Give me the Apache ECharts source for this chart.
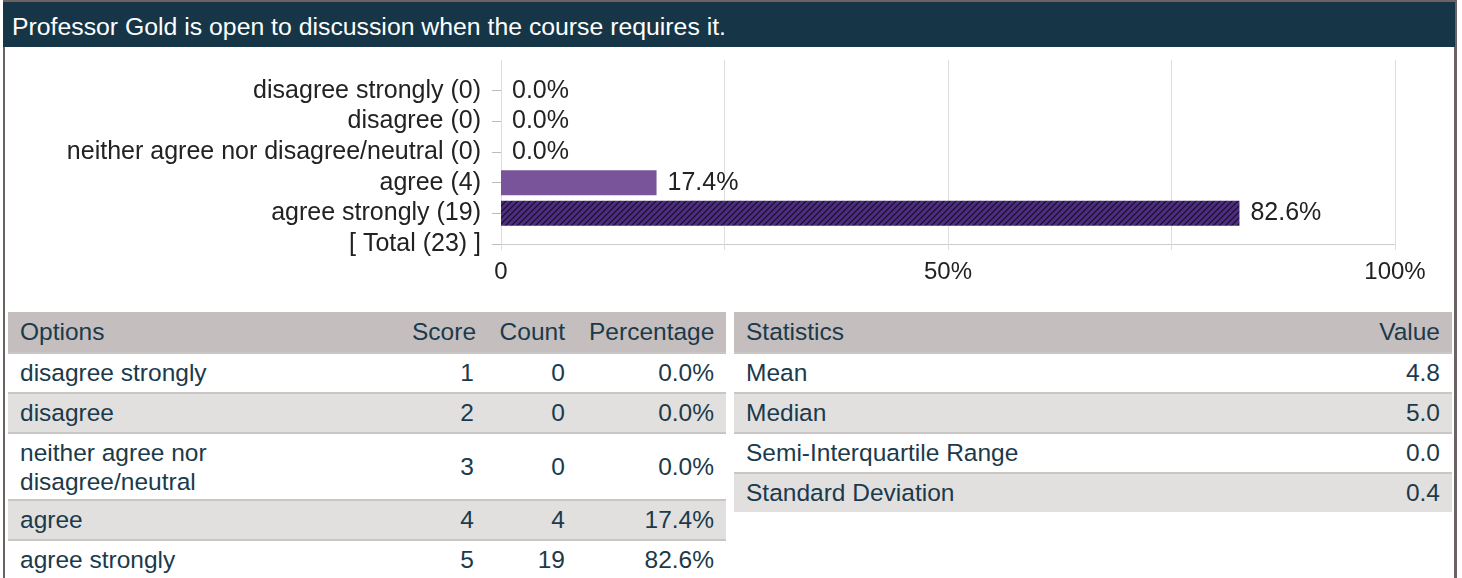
<!DOCTYPE html>
<html>
<head>
<meta charset="utf-8">
<script src="https://cdn.jsdelivr.net/npm/echarts@6/dist/echarts.min.js"></script>
<style>
  html, body { margin: 0; padding: 0; background: #fff; }
  body { width: 1462px; height: 578px; overflow: hidden; position: relative; font-family: "Liberation Sans", Arial, sans-serif; }
  #frame { position: absolute; left: 3px; top: 0; width: 1449px; height: 600px; border-top: 2px solid #6b6262; border-left: 2px solid #6b6262; border-right: 3px solid #6b6262; }
  #head { position: absolute; left: 3px; top: 2px; width: 1452px; height: 45px; background: #163547; color: #fff; font-size: 24.8px; line-height: 50px; padding-left: 9px; box-sizing: border-box; white-space: nowrap; overflow: hidden; }
  #chart { position: absolute; left: 0; top: 47px; width: 1462px; height: 262px; }
  table { position: absolute; top: 312px; border-collapse: collapse; font-size: 24.5px; color: #1b3a4b; table-layout: fixed; }
  td, th { font-weight: normal; padding: 0 12px; height: 38px; border-top: 2px solid #cbc6c6; white-space: nowrap; overflow: hidden; }
  th { background: #c4bebe; height: 40px; border-top: none; }
  tr.g td { background: #e1e0df; }
  .r { text-align: right; }
  .l { text-align: left; }
  #opts { left: 8px; width: 718px; }
  #stats { left: 734px; width: 718px; }
  #opts td.two { height: 65px; line-height: 29px; }
</style>
</head>
<body>
<div id="frame"></div>
<div id="head">Professor Gold is open to discussion when the course requires it.</div>
<div id="chart"></div>
<table id="opts"><colgroup><col><col style="width:86px"><col style="width:91px"><col style="width:149px"></colgroup><thead></thead><tbody></tbody></table>
<table id="stats"><colgroup><col><col style="width:150px"></colgroup><thead></thead><tbody></tbody></table>
<script>
// 数据
var categories = ['', 'disagree strongly (0)', 'disagree (0)', 'neither agree nor disagree/neutral (0)', 'agree (4)', 'agree strongly (19)', '[ Total (23) ]'];
var percentValues = [null, 0, 0, 0, 17.4, 82.6, null];
var xTickLabels = {0: '0', 50: '50%', 100: '100%'};

var optionNames = ['disagree strongly', 'disagree', 'neither agree nor<br>disagree/neutral', 'agree', 'agree strongly'];
var optionScores = [1, 2, 3, 4, 5];
var optionCounts = [0, 0, 0, 4, 19];
var optionPercents = ['0.0%', '0.0%', '0.0%', '17.4%', '82.6%'];

var statNames = ['Mean', 'Median', 'Semi-Interquartile Range', 'Standard Deviation'];
var statValues = ['4.8', '5.0', '0.0', '0.4'];

// 斜线填充
var hatch = document.createElement('canvas');
hatch.width = 6; hatch.height = 6;
var hc = hatch.getContext('2d');
hc.fillStyle = '#4e2c82';
hc.fillRect(0, 0, 6, 6);
hc.strokeStyle = '#160d28';
hc.lineWidth = 1.2;
hc.beginPath();
hc.moveTo(-1, 7); hc.lineTo(7, -1);
hc.moveTo(-4, 4); hc.lineTo(4, -4);
hc.moveTo(2, 10); hc.lineTo(10, 2);
hc.stroke();

var barColors = [null, '#7a549b', '#7a549b', '#7a549b', '#7a549b', {image: hatch, repeat: 'repeat'}, null];

var chart = echarts.init(document.getElementById('chart'));
var option = {
    animation: false,
    textStyle: { fontFamily: '"Liberation Sans", Arial, sans-serif' },
    grid: { left: 501, top: 13, width: 894, height: 184 },
    xAxis: {
        type: 'value',
        min: 0,
        max: 100,
        interval: 25,
        axisLine: { show: true, lineStyle: { color: '#cccccc', width: 1 } },
        axisTick: { show: true, length: 6, lineStyle: { color: '#dddddd' } },
        splitLine: { show: true, lineStyle: { color: '#dddddd', width: 1 } },
        axisLabel: {
            margin: 16,
            fontSize: 24,
            color: '#222',
            formatter: function (v) { return xTickLabels[v] || ''; }
        }
    },
    yAxis: {
        type: 'category',
        inverse: true,
        boundaryGap: false,
        data: categories,
        axisLine: { show: false },
        axisTick: {
            show: true,
            length: 9,
            interval: function (i) { return i > 0; },
            lineStyle: { color: '#bbbbbb' }
        },
        axisLabel: { margin: 20, fontSize: 25, color: '#222', interval: 0 },
        splitLine: { show: false }
    },
    series: [
        {
            type: 'bar',
            barWidth: 25,
            data: percentValues.map(function (v, i) {
                return { value: v, itemStyle: { color: barColors[i] || '#7a549b' } };
            }),
            label: {
                show: true,
                position: 'right',
                distance: 11,
                fontSize: 25,
                color: '#222',
                formatter: function (p) { return p.value.toFixed(1) + '%'; }
            }
        }
    ]
};
chart.setOption(option);

// 表格
var oh = document.querySelector('#opts thead');
oh.innerHTML = '<tr><th class="l">Options</th><th class="r">Score</th><th class="r">Count</th><th class="r">Percentage</th></tr>';
var ob = document.querySelector('#opts tbody');
var rows = '';
for (var i = 0; i < optionNames.length; i++) {
    var two = optionNames[i].indexOf('<br>') >= 0 ? ' class="two"' : '';
    rows += '<tr' + (i % 2 ? ' class="g"' : '') + '><td' + two + '>' + optionNames[i] + '</td><td class="r">' + optionScores[i] +
        '</td><td class="r">' + optionCounts[i] + '</td><td class="r">' + optionPercents[i] + '</td></tr>';
}
ob.innerHTML = rows;

var sh = document.querySelector('#stats thead');
sh.innerHTML = '<tr><th class="l">Statistics</th><th class="r">Value</th></tr>';
var sb = document.querySelector('#stats tbody');
rows = '';
for (var j = 0; j < statNames.length; j++) {
    rows += '<tr' + (j % 2 ? ' class="g"' : '') + '><td>' + statNames[j] + '</td><td class="r">' + statValues[j] + '</td></tr>';
}
sb.innerHTML = rows;
</script>
</body>
</html>
